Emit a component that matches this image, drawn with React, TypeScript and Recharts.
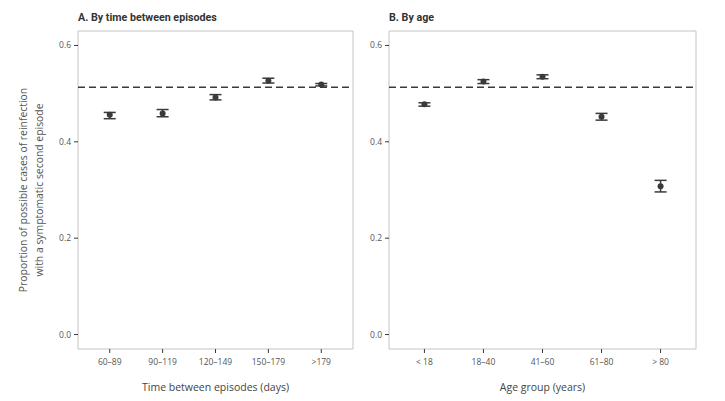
import {
  ErrorBar,
  ReferenceArea,
  ReferenceLine,
  Scatter,
  ScatterChart,
  XAxis,
  YAxis,
} from "recharts";

const timeLabels = ["60–89", "90–119", "120–149", "150–179", ">179"];
const timeEstimate = [0.456, 0.459, 0.492, 0.527, 0.519];
const timeLower = [0.448, 0.452, 0.487, 0.522, 0.516];
const timeUpper = [0.461, 0.467, 0.498, 0.532, 0.521];

const ageLabels = ["< 18", "18–40", "41–60", "61–80", "> 80"];
const ageEstimate = [0.478, 0.525, 0.535, 0.452, 0.308];
const ageLower = [0.474, 0.521, 0.531, 0.445, 0.296];
const ageUpper = [0.481, 0.529, 0.539, 0.459, 0.32];

const overallProportion = 0.513;
const yTicks = [0, 0.2, 0.4, 0.6];

const FONT = "'Open Sans', 'Noto Sans', sans-serif";
const INK = "#3a3a3a";

function buildRows(est: number[], lo: number[], hi: number[]) {
  return est.map((v, i) => ({ x: i + 1, y: v, err: [v - lo[i], hi[i] - v] }));
}

function YLabel({ viewBox }: any) {
  const cy = viewBox.y + viewBox.height / 2;
  return (
    <g transform={`translate(27, ${cy}) rotate(-90)`}>
      <text textAnchor="middle" fontSize={10.4} fill="#555" fontFamily={FONT}>
        <tspan x={0} y={0}>Proportion of possible cases of reinfection</tspan>
        <tspan x={0} y={16}>with a symptomatic second episode</tspan>
      </text>
    </g>
  );
}

function Panel({
  width,
  yAxisWidth,
  right,
  labels,
  rows,
  xTitle,
  showYLabel,
}: {
  width: number;
  yAxisWidth: number;
  right: number;
  labels: string[];
  rows: { x: number; y: number; err: number[] }[];
  xTitle: string;
  showYLabel?: boolean;
}) {
  return (
    <ScatterChart width={width} height={401} margin={{ top: 31, right, bottom: 0, left: 0 }}>
      <ReferenceArea
        x1={0.4}
        x2={5.6}
        y1={-0.03}
        y2={0.63}
        fill="none"
        stroke="#c4c4c4"
        strokeWidth={1}
        ifOverflow="visible"
      />
      <XAxis
        type="number"
        dataKey="x"
        domain={[0.4, 5.6]}
        ticks={[1, 2, 3, 4, 5]}
        interval={0}
        allowDataOverflow
        height={52}
        tickFormatter={(v: number) => labels[v - 1] ?? ""}
        axisLine={false}
        tickLine={{ stroke: INK }}
        tickSize={4}
        tickMargin={6}
        tick={{ fontSize: 8.5, fill: "#555", fontFamily: FONT }}
        label={{
          value: xTitle,
          position: "insideBottom",
          offset: 10,
          fontSize: 10.5,
          fill: "#444",
          fontFamily: FONT,
        }}
      />
      <YAxis
        type="number"
        dataKey="y"
        domain={[-0.03, 0.63]}
        ticks={yTicks}
        allowDataOverflow
        width={yAxisWidth}
        tickFormatter={(v: number) => v.toFixed(1)}
        axisLine={false}
        tickLine={{ stroke: INK }}
        tickSize={4}
        tickMargin={3}
        tick={{ fontSize: 8.5, fill: "#555", fontFamily: FONT }}
        label={showYLabel ? { content: YLabel } : undefined}
      />
      <ReferenceLine
        y={overallProportion}
        stroke={INK}
        strokeWidth={1.5}
        strokeDasharray="7 4"
      />
      <Scatter data={rows} fill={INK} isAnimationActive={false} shape={(p: any) => (
        <circle cx={p.cx} cy={p.cy} r={3} fill={INK} />
      )}>
        <ErrorBar dataKey="err" direction="y" width={6} stroke={INK} strokeWidth={1.5} />
      </Scatter>
    </ScatterChart>
  );
}

const titleStyle: React.CSSProperties = {
  position: "absolute",
  top: 11,
  fontFamily: "Roboto, sans-serif",
  fontWeight: 700,
  fontSize: 10.7,
  color: "#333",
  whiteSpace: "nowrap",
};

export default function App() {
  return (
    <div style={{ position: "absolute", left: 0, top: 0, width: 725, height: 401, background: "#fff" }}>
      <div style={{ position: "absolute", left: 0, top: 0 }}>
        <Panel
          width={362}
          yAxisWidth={78}
          right={9}
          labels={timeLabels}
          rows={buildRows(timeEstimate, timeLower, timeUpper)}
          xTitle="Time between episodes (days)"
          showYLabel
        />
      </div>
      <div style={{ position: "absolute", left: 362, top: 0 }}>
        <Panel
          width={363}
          yAxisWidth={27}
          right={29}
          labels={ageLabels}
          rows={buildRows(ageEstimate, ageLower, ageUpper)}
          xTitle="Age group (years)"
        />
      </div>
      <div style={{ ...titleStyle, left: 78 }}>A. By time between episodes</div>
      <div style={{ ...titleStyle, left: 389 }}>B. By age</div>
    </div>
  );
}
